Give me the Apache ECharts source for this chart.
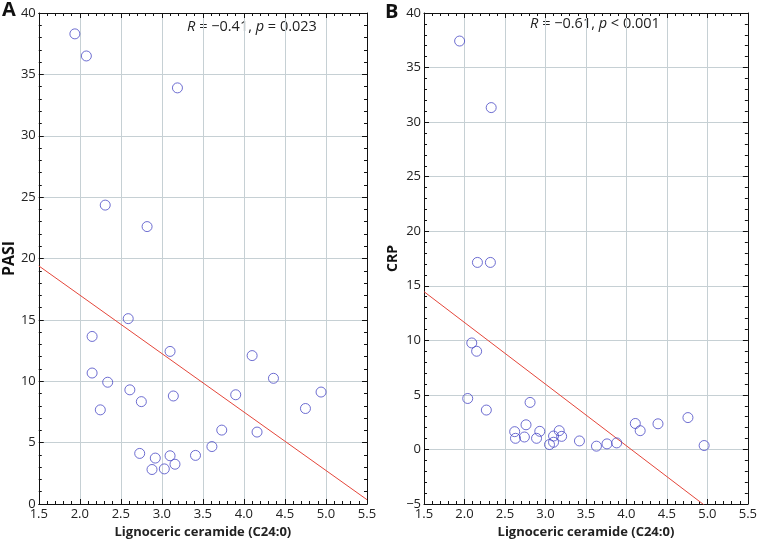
<!DOCTYPE html>
<html>
<head>
<meta charset="utf-8">
<script src="https://cdn.jsdelivr.net/npm/echarts@6/dist/echarts.min.js"></script>
<style>
  html, body { margin: 0; padding: 0; background: #fff; }
  #chart { width: 760px; height: 544px; }
</style>
</head>
<body>
<div id="chart"></div>
<script>
// panel A: PASI vs lignoceric ceramide
var pasiPoints = [
  [1.94, 38.3], [2.08, 36.5], [3.19, 33.9], [2.31, 24.35], [2.82, 22.6],
  [2.59, 15.1], [2.15, 13.65], [2.15, 10.67], [2.34, 9.92], [2.25, 7.67],
  [2.61, 9.3], [2.75, 8.34], [3.10, 12.43], [3.14, 8.8], [2.73, 4.12],
  [2.92, 3.74], [2.88, 2.81], [3.03, 2.86], [3.10, 3.93], [3.16, 3.24],
  [3.41, 3.96], [3.61, 4.68], [3.73, 6.02], [3.90, 8.9], [4.10, 12.09],
  [4.16, 5.86], [4.36, 10.24], [4.75, 7.78], [4.94, 9.12]
];
var pasiFit = [[1.5, 19.4], [5.5, 0.35]];

// panel B: CRP vs lignoceric ceramide
var crpPoints = [
  [1.94, 37.43], [2.33, 31.33], [2.16, 17.14], [2.32, 17.14], [2.09, 9.76],
  [2.15, 9.0], [2.04, 4.67], [2.27, 3.61], [2.81, 4.31], [2.62, 1.63],
  [2.63, 1.02], [2.76, 2.26], [2.74, 1.14], [2.89, 1.02], [2.93, 1.66],
  [3.05, 0.45], [3.10, 1.23], [3.10, 0.66], [3.17, 1.72], [3.20, 1.2],
  [3.42, 0.78], [3.63, 0.3], [3.76, 0.51], [3.88, 0.6], [4.11, 2.38],
  [4.17, 1.72], [4.39, 2.35], [4.76, 2.92], [4.96, 0.36]
];
var crpFit = [[1.5, 14.46], [5.5, -8.14]];

var xTicks = { min: 1.5, max: 5.5, interval: 0.5 };
var pasiTicks = { min: 0, max: 40, interval: 5 };
var crpTicks = { min: -5, max: 40, interval: 5 };

var font = 'Open Sans';
var gridColor = '#c6d0d4';
var axisColor = '#111';

function xAxisFor(gridIndex, pos, showLabel) {
  return {
    type: 'value', gridIndex: gridIndex, position: pos,
    min: xTicks.min, max: xTicks.max, interval: xTicks.interval,
    name: showLabel ? 'Lignoceric ceramide (C24:0)' : '',
    nameLocation: 'middle', nameGap: 22,
    nameTextStyle: { fontFamily: font, fontWeight: 'bold', fontSize: 13, color: '#222' },
    axisLine: { show: true, onZero: false, lineStyle: { color: axisColor, width: 1 } },
    axisTick: { show: true, inside: true, length: 5, lineStyle: { color: axisColor } },
    minorTick: { show: true, splitNumber: 5, length: 3, lineStyle: { color: axisColor } },
    axisLabel: {
      show: showLabel, fontFamily: font, fontSize: 13, color: '#222', margin: 4,
      formatter: function (v) { return v.toFixed(1); }
    },
    splitLine: { show: showLabel, lineStyle: { color: gridColor, width: 1 } }
  };
}

function yAxisFor(gridIndex, pos, ticks, name, nameSize, nameGap, showLabel) {
  return {
    type: 'value', gridIndex: gridIndex, position: pos,
    min: ticks.min, max: ticks.max, interval: ticks.interval,
    name: showLabel ? name : '',
    nameLocation: 'middle', nameGap: nameGap,
    nameTextStyle: { fontFamily: font, fontWeight: 'bold', fontSize: nameSize, color: '#111' },
    axisLine: { show: true, onZero: false, lineStyle: { color: axisColor, width: 1 } },
    axisTick: { show: true, inside: true, length: 5, lineStyle: { color: axisColor } },
    minorTick: { show: true, splitNumber: 5, length: 3, lineStyle: { color: axisColor } },
    axisLabel: {
      show: showLabel, fontFamily: font, fontSize: 13, color: '#222', margin: 3,
      formatter: function (v) { return v < 0 ? '\u2212' + Math.abs(v) : String(v); }
    },
    splitLine: { show: showLabel, lineStyle: { color: gridColor, width: 1 } }
  };
}

function scatter(xi, yi, data) {
  return {
    type: 'scatter', xAxisIndex: xi, yAxisIndex: yi, data: data,
    symbol: 'circle', symbolSize: 10,
    itemStyle: { color: 'rgba(255,255,255,0)', borderColor: '#4a4ac6', borderWidth: 1 },
    z: 3
  };
}

function fitLine(xi, yi, data) {
  return {
    type: 'line', xAxisIndex: xi, yAxisIndex: yi, data: data,
    symbol: 'none', clip: true,
    lineStyle: { color: '#e4463a', width: 1 }, z: 2
  };
}

var chart = echarts.init(document.getElementById('chart'));
chart.setOption({
  animation: false,
  backgroundColor: '#fff',
  grid: [
    { left: 36, right: 393, top: 13, bottom: 35 },
    { left: 424, right: 7, top: 13, bottom: 34 }
  ],
  xAxis: [
    xAxisFor(0, 'bottom', true), xAxisFor(0, 'top', false),
    xAxisFor(1, 'bottom', true), xAxisFor(1, 'top', false)
  ],
  yAxis: [
    yAxisFor(0, 'left', pasiTicks, 'PASI', 16, 19, true), yAxisFor(0, 'right', pasiTicks, '', 12, 0, false),
    yAxisFor(1, 'left', crpTicks, 'CRP', 14, 24, true), yAxisFor(1, 'right', crpTicks, '', 12, 0, false)
  ],
  series: [
    fitLine(0, 0, pasiFit), scatter(0, 0, pasiPoints),
    fitLine(2, 2, crpFit), scatter(2, 2, crpPoints)
  ],
  graphic: [
    { type: 'text', left: 2, top: 0, style: { text: 'A', font: 'bold 20px "Open Sans"', fill: '#111' } },
    { type: 'text', left: 385, top: 2, style: { text: 'B', font: 'bold 20px "Open Sans"', fill: '#111' } },
    {
      type: 'text', x: 252, y: 27,
      style: {
        text: '{i|R} = \u22120.41, {i|p} = 0.023', align: 'center', verticalAlign: 'middle',
        fontFamily: font, fontSize: 14.5, fill: '#222',
        rich: { i: { fontStyle: 'italic', fontFamily: font, fontSize: 14.5, fill: '#222' } }
      }
    },
    {
      type: 'text', x: 595, y: 24,
      style: {
        text: '{i|R} = \u22120.61, {i|p} < 0.001', align: 'center', verticalAlign: 'middle',
        fontFamily: font, fontSize: 14.5, fill: '#222',
        rich: { i: { fontStyle: 'italic', fontFamily: font, fontSize: 14.5, fill: '#222' } }
      }
    }
  ]
});
</script>
</body>
</html>
